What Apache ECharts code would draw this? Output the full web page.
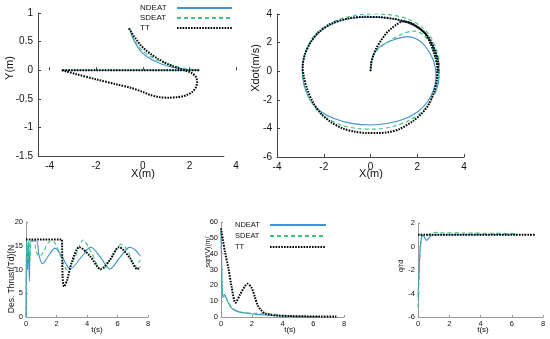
<!DOCTYPE html>
<html><head><meta charset="utf-8">
<script src="https://cdn.jsdelivr.net/npm/echarts@6/dist/echarts.min.js"></script>
<style>html,body{margin:0;padding:0;background:#fff}#c{width:550px;height:339px}</style>
</head><body><div id="c"></div>
<script>
const seriesNames = ['NDEAT', 'SDEAT', 'TT'];

// ---- Plot 1: Y(m) vs X(m) ----
const p1_ndeat = [[-0.55,0.72],[-0.5,0.64],[-0.42,0.55],[-0.32,0.47],[-0.2,0.39],[-0.05,0.31],[0.2,0.23],[0.5,0.16],[0.8,0.11],[1.1,0.07],[1.5,0.035],[1.9,0.012],[2.44,0],[1.5,0],[0,0],[-1.5,0],[-3.48,0]];
const p1_sdeat = [[-0.57,0.73],[-0.5,0.66],[-0.42,0.58],[-0.3,0.49],[-0.15,0.4],[0,0.33],[0.25,0.26],[0.55,0.19],[0.9,0.13],[1.3,0.08],[1.7,0.04],[2.1,0.015],[2.44,0],[1.5,0],[0,0],[-1.5,0],[-3.48,0]];
const p1_tt = [[-0.6,0.73],[-0.5,0.67],[-0.4,0.6],[-0.25,0.52],[-0.1,0.44],[0.1,0.36],[0.35,0.28],[0.65,0.2],[1.0,0.12],[1.3,0.07],[1.6,0.025],[1.85,-0.01],[2.1,-0.05],[2.28,-0.12],[2.33,-0.2],[2.28,-0.3],[2.12,-0.38],[1.85,-0.44],[1.5,-0.47],[1.1,-0.48],[0.7,-0.47],[0.3,-0.43],[0,-0.38],[-0.5,-0.31],[-1.1,-0.25],[-2,-0.16],[-2.85,-0.07],[-3.3,-0.02],[-3.48,0],[-2,0],[0,0],[1.5,0],[2.44,0]];
const p1XTicks = [-4, -2, 0, 2, 4];
const p1XMin = -4.5, p1XMax = 4, p1XLineEnd = 3.5;
const p1YMin = -1.5, p1YMax = 1;

// ---- Plot 2: Xdot(m/s) vs X(m) ----
const p2_ndeat = [[0,0],[0.02,0.5],[0.08,1.0],[0.2,1.38],[0.4,1.7],[0.7,2.0],[1.0,2.2],[1.3,2.35],[1.6,2.42],[1.9,2.3],[2.2,2.0],[2.45,1.5],[2.65,0.9],[2.78,0.2],[2.8,-0.5],[2.7,-1.3],[2.45,-2.1],[2.05,-2.8],[1.5,-3.3],[0.8,-3.62],[0.0,-3.76],[-0.8,-3.65],[-1.5,-3.35],[-2.1,-2.85],[-2.55,-2.1],[-2.82,-1.1],[-2.92,0],[-2.82,1.1],[-2.55,2.05],[-2.1,2.85],[-1.5,3.4],[-0.8,3.7],[0,3.78],[0.8,3.7],[1.5,3.42],[2.1,2.95],[2.5,2.3],[2.78,1.4],[2.92,0.4],[2.92,-0.6],[2.75,-1.6]];
const p2_sdeat = [[0,0],[0.03,0.6],[0.12,1.1],[0.3,1.5],[0.6,1.9],[0.95,2.25],[1.35,2.6],[1.7,2.78],[1.95,2.8],[2.25,2.55],[2.5,2.05],[2.7,1.35],[2.85,0.5],[2.9,-0.3],[2.82,-1.1],[2.6,-1.95],[2.25,-2.75],[1.7,-3.4],[1.0,-3.85],[0.2,-4.05],[-0.5,-4.02],[-1.2,-3.8],[-1.8,-3.35],[-2.3,-2.7],[-2.65,-1.8],[-2.87,-0.8],[-2.92,0.2],[-2.8,1.3],[-2.5,2.3],[-2.0,3.1],[-1.3,3.65],[-0.5,3.95],[0.3,4.0],[1.0,3.9],[1.6,3.65],[2.15,3.15],[2.55,2.45],[2.82,1.5],[2.95,0.5],[2.95,-0.5]];
const p2_tt = [[0,0],[0.03,0.5],[0.1,1.0],[0.25,1.6],[0.45,2.15],[0.68,2.66],[0.9,3.0],[1.1,3.25],[1.38,3.48],[1.7,3.4],[2.05,3.05],[2.35,2.6],[2.58,1.9],[2.75,1.1],[2.86,0.2],[2.84,-0.6],[2.72,-1.46],[2.5,-2.3],[2.2,-2.95],[1.8,-3.5],[1.24,-4.05],[0.8,-4.25],[0.3,-4.33],[-0.2,-4.32],[-0.7,-4.22],[-1.2,-4.0],[-1.7,-3.55],[-2.1,-3.0],[-2.45,-2.2],[-2.7,-1.3],[-2.85,-0.4],[-2.9,0.3],[-2.8,1.2],[-2.55,2.05],[-2.2,2.75],[-1.7,3.3],[-1.0,3.68],[-0.3,3.8],[0.4,3.78],[1.0,3.66],[1.55,3.45],[2.05,3.05],[2.45,2.45],[2.72,1.6],[2.88,0.7],[2.9,-0.1]];

// ---- Plot 3: Des. Thrust vs t ----
const p3_t_nd = [0, 0.04, 0.1, 0.15, 0.22, 0.3, 0.45, 0.7, 0.85, 1.08, 1.5, 1.9, 2.4, 2.9, 3.6, 4.25, 4.9, 5.5, 6.15, 6.8, 7.2, 7.5];
const p3_nd   = [0, 16, 10, 16, 7.5, 16, 16, 16, 13, 11.2, 13, 14.5, 12.5, 10.1, 12.5, 14.7, 12.5, 10.1, 12.5, 14.7, 14.0, 12.8];
const p3_t_sd = [0, 0.05, 0.12, 0.2, 0.28, 0.35, 0.5, 0.7, 0.9, 1.15, 1.5, 1.75, 2.0, 2.3, 2.7, 3.2, 3.75, 4.3, 4.95, 5.6, 6.25, 6.7, 7.1, 7.5];
const p3_sd   = [0, 16, 11, 16, 12, 16, 16, 13.5, 12.8, 13.8, 15.8, 16, 15, 12.5, 9.9, 12.5, 16.2, 13.5, 9.8, 12.5, 15.3, 13.8, 10.6, 12];
const p3_t_tt = [0, 0.3, 2.3, 2.35, 2.4, 2.5, 2.7, 3.0, 3.5, 4.2, 4.9, 5.5, 6.1, 6.8, 7.3, 7.5];
const p3_tt   = [16.3, 16.3, 16.3, 16.3, 8.5, 6.4, 7.8, 11.5, 14.7, 12.8, 10.1, 12.0, 14.7, 12.5, 10.1, 10.6];

// ---- Plot 4: sqrt(V) vs t ----
const p4_t_nd = [0, 0.04, 0.08, 0.13, 0.2, 0.27, 0.35, 0.45, 0.7, 1.1, 1.8, 2.6, 3.5, 5, 6.4];
const p4_nd   = [55, 35, 16, 12.5, 13, 13.7, 11.5, 9.5, 5.5, 3.4, 2.2, 1.5, 0.8, 0.4, 0.3];
const p4_t_sd = [0, 0.04, 0.08, 0.13, 0.2, 0.27, 0.35, 0.45, 0.7, 1.0, 1.5, 2.0, 3.0, 3.5, 4.0, 5.0, 6.4];
const p4_sd   = [54, 35, 17, 13.5, 14, 14.5, 12, 10, 6, 4, 2.8, 2.4, 2.2, 1.6, 0.9, 0.5, 0.3];
const p4_t_tt = [0, 0.26, 0.48, 0.69, 0.95, 1.23, 1.56, 1.73, 1.99, 2.2, 2.38, 2.6, 2.86, 3.2, 3.6, 4.5, 5.5, 6.5, 7.5];
const p4_tt   = [56, 41, 31, 19, 9, 14, 19.5, 21, 18.5, 12.8, 7.5, 4.4, 2.3, 1.5, 1.0, 0.6, 0.4, 0.3, 0.3];

// ---- Plot 5: ratio vs t ----
const p5_t_nd = [0, 0.05, 0.1, 0.15, 0.22, 0.3, 0.38, 0.46, 0.55, 0.65, 0.78, 0.9, 1.1, 2, 4, 6.4];
const p5_nd   = [-4.3, -2.8, -1.2, 0.0, 0.75, 0.97, 0.9, 0.65, 0.52, 0.62, 0.85, 0.98, 1.0, 1.0, 1.0, 1.0];
const p5_t_sd = [0, 0.05, 0.1, 0.15, 0.22, 0.3, 0.4, 0.55, 0.7, 0.85, 1.0, 1.5, 3, 5, 6.4];
const p5_sd   = [-5.2, -3.5, -1.6, -0.2, 0.6, 0.9, 0.95, 0.9, 1.0, 1.15, 1.2, 1.18, 1.15, 1.12, 1.1];
const p5_t_tt = [0, 7.5];
const p5_tt   = [1, 1];

const zip = (t, v) => t.map((x, i) => [x, v[i]]);
const FONT = '"Liberation Sans", Arial, Helvetica, sans-serif';

const styleOf = {
  NDEAT: { color: '#4092d2', width: 1.1, type: 'solid' },
  SDEAT: { color: '#40c382', width: 1.1, type: [4, 3] },
  TT:    { color: '#000000', width: 2.0, type: [1.6, 1.2] }
};

function mkSeries(name, gi, data, extra) {
  const s = styleOf[name];
  return Object.assign({
    name, type: 'line', xAxisIndex: gi, yAxisIndex: gi, data,
    symbol: 'none', smooth: 0.3, animation: false, silent: true,
    color: s.color,
    lineStyle: { color: s.color, width: s.width, type: s.type }
  }, extra || {});
}

const grids = [
  { left: 38, top: 13, width: 198, height: 143 },
  { left: 277, top: 14, width: 187, height: 143 },
  { left: 26, top: 222, width: 122, height: 95 },
  { left: 221, top: 222, width: 123, height: 95 },
  { left: 418, top: 223, width: 125, height: 94 }
];

function ax(gi, min, max, interval, big, extra) {
  const lc = big ? '#444' : '#999';
  return Object.assign({
    type: 'value', gridIndex: gi, min, max, interval,
    axisLine: { show: true, onZero: false, lineStyle: { color: lc, width: 1 } },
    axisTick: { show: true, inside: true, length: big ? 3 : 2, lineStyle: { color: lc } },
    axisLabel: { fontSize: big ? 10 : 7.5, color: '#111', margin: big ? 5 : 3, fontFamily: FONT },
    splitLine: { show: false }
  }, extra || {});
}

const xAxes = [
  ax(0, p1XMin, p1XMax, 2, true, {
    axisLine: { show: false },
    axisLabel: { fontSize: 10, color: '#111', margin: 5, fontFamily: FONT, customValues: p1XTicks },
    axisTick: { show: true, inside: true, length: 3, customValues: p1XTicks, lineStyle: { color: '#444' } }
  }),
  ax(1, -4, 4, 2, true),
  ax(2, 0, 8, 2, false),
  ax(3, 0, 8, 2, false),
  ax(4, 0, 8, 2, false)
];
const yAxes = [
  ax(0, p1YMin, p1YMax, 0.5, true),
  ax(1, -6, 4, 2, true),
  ax(2, 0, 20, 5, false),
  ax(3, 0, 60, 10, false),
  ax(4, -6, 2, 2, false)
];

const series = [
  mkSeries('NDEAT', 0, p1_ndeat, {
    markLine: {
      silent: true, animation: false, symbol: ['none', 'none'], label: { show: false },
      lineStyle: { color: '#444', type: 'solid', width: 1 },
      data: [[{ coord: [p1XMin, p1YMin] }, { coord: [p1XLineEnd, p1YMin] }]]
    }
  }),
  mkSeries('SDEAT', 0, p1_sdeat),
  mkSeries('TT', 0, p1_tt),
  mkSeries('NDEAT', 1, p2_ndeat),
  mkSeries('SDEAT', 1, p2_sdeat),
  mkSeries('TT', 1, p2_tt),
  mkSeries('NDEAT', 2, zip(p3_t_nd, p3_nd)),
  mkSeries('SDEAT', 2, zip(p3_t_sd, p3_sd)),
  mkSeries('TT', 2, zip(p3_t_tt, p3_tt)),
  mkSeries('NDEAT', 3, zip(p4_t_nd, p4_nd)),
  mkSeries('SDEAT', 3, zip(p4_t_sd, p4_sd)),
  mkSeries('TT', 3, zip(p4_t_tt, p4_tt)),
  mkSeries('NDEAT', 4, zip(p5_t_nd, p5_nd)),
  mkSeries('SDEAT', 4, zip(p5_t_sd, p5_sd)),
  mkSeries('TT', 4, zip(p5_t_tt, p5_tt))
];

function mkLegend(left, top, textW, iconW, fs, rowH, gap) {
  return {
    left, top, orient: 'vertical', align: 'right', padding: 0,
    itemWidth: iconW, itemHeight: rowH, itemGap: gap, selectedMode: false,
    data: seriesNames,
    itemStyle: { opacity: 0 },
    formatter: n => '{a|' + n + '}',
    textStyle: { rich: { a: { width: textW, align: 'left', fontSize: fs, lineHeight: rowH, color: '#111', fontFamily: FONT } } }
  };
}

function label(text, x, y, fs, rot) {
  return {
    type: 'text', x, y, rotation: rot ? Math.PI / 2 : 0, silent: true,
    style: { text, fontSize: fs, fontFamily: FONT, fill: '#111', align: 'center', verticalAlign: 'middle' }
  };
}

const chart = echarts.init(document.getElementById('c'), null, { renderer: 'canvas' });
chart.setOption({
  animation: false,
  backgroundColor: '#ffffff',
  textStyle: { fontFamily: FONT },
  grid: grids,
  xAxis: xAxes,
  yAxis: yAxes,
  legend: [
    mkLegend(140, 4, 32, 55, 8, 10, 2),
    mkLegend(235, 221, 30, 56, 7.5, 10, 3)
  ],
  series,
  graphic: [
    label('X(m)', 143, 174, 11, false),
    label('Y(m)', 10, 68, 11, true),
    label('X(m)', 371, 174, 11, false),
    label('Xdot(m/s)', 256, 68, 11, true),
    label('t(s)', 97, 330, 8, false),
    label('t(s)', 290, 330, 8, false),
    label('t(s)', 483, 330, 8, false),
    label('Des. Thrust(Td)(N', 12, 279, 8.5, true),
    label('sqrt(V)(m/', 208, 252, 7, true),
    label('q/rd', 401, 266, 7, true)
  ]
});
</script></body></html>
